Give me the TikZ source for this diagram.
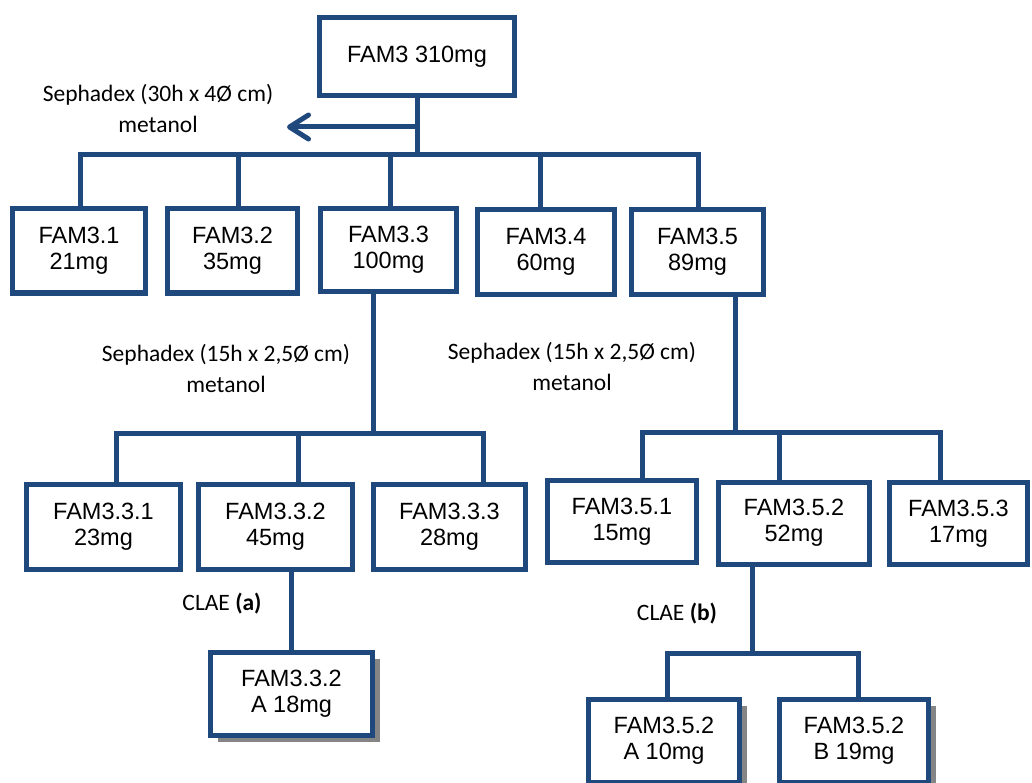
\documentclass[tikz,border=0pt]{standalone}
\usepackage{fontspec}
\setmainfont{Liberation Sans}
\newfontfamily\notefont{Carlito}
\usetikzlibrary{arrows.meta,shadows}
\definecolor{famblue}{HTML}{1F497D}
\tikzset{
  fam/.style={draw=famblue, line width=5pt, fill=white, inner sep=0pt,
    align=center, font=\fontsize{23.5}{26}\selectfont},
  famshadow/.style={fam, general shadow={fill=black!48, shadow xshift=7pt, shadow yshift=-6pt}},
  link/.style={draw=famblue, line width=5pt, line join=miter},
  note/.style={align=center, inner sep=0pt, font=\notefont\fontsize{23.5}{31}\selectfont},
}
\begin{document}
\begin{tikzpicture}[x=1pt, y=-1pt]
\clip (0,0) rectangle (1032,783);
\fill[white] (0,0) rectangle (1032,783);

% bar levels
\coordinate (b1) at (0,155);
\coordinate (b2) at (0,433);
\coordinate (b3) at (0,432);
\coordinate (b4) at (0,653);
\coordinate (arrowtip) at (287,127);

% fractions
\node[fam, minimum width=195, minimum height=78] (top) at (417,56.5) {FAM3 310mg};

\node[fam, minimum width=133, minimum height=84] (n31) at (79,251)    {FAM3.1\\21mg};
\node[fam, minimum width=130, minimum height=84] (n32) at (232.5,251) {FAM3.2\\35mg};
\node[fam, minimum width=136, minimum height=83] (n33) at (388.5,250) {FAM3.3\\100mg};
\node[fam, minimum width=137, minimum height=84] (n34) at (546,252)   {FAM3.4\\60mg};
\node[fam, minimum width=132, minimum height=85] (n35) at (697.5,252) {FAM3.5\\89mg};

\node[fam, minimum width=154, minimum height=85] (n331) at (103.5,527) {FAM3.3.1\\23mg};
\node[fam, minimum width=154, minimum height=85] (n332) at (275.5,527) {FAM3.3.2\\45mg};
\node[fam, minimum width=152, minimum height=85] (n333) at (449.5,527) {FAM3.3.3\\28mg};

\node[fam, minimum width=149, minimum height=82] (n351) at (622,521.5) {FAM3.5.1\\15mg};
\node[fam, minimum width=151, minimum height=82] (n352) at (794,523)   {FAM3.5.2\\52mg};
\node[fam, minimum width=138, minimum height=82] (n353) at (958.5,523.5) {FAM3.5.3\\17mg};

\node[famshadow, minimum width=162, minimum height=83] (n332a) at (291.5,694) {FAM3.3.2\\A 18mg};
\node[famshadow, minimum width=151, minimum height=83] (n352a) at (664,741)   {FAM3.5.2\\A 10mg};
\node[famshadow, minimum width=149, minimum height=83] (n352b) at (854,741)   {FAM3.5.2\\B 19mg};

% connectors: first split
\draw[link] (top.south) -- (top.south |- b1);
\draw[link, -{Straight Barb[length=19pt, width=24pt, round]}] (top.south |- arrowtip) -- (arrowtip);
\draw[link] ([xshift=1]n31.north) -- ([xshift=1]n31.north |- b1)
  -- ([xshift=0.5]n35.north |- b1) -- ([xshift=0.5]n35.north);
\draw[link] ([xshift=5.5]n32.north) -- ([xshift=5.5]n32.north |- b1);
\draw[link] ([xshift=1.5]n33.north) -- ([xshift=1.5]n33.north |- b1);
\draw[link] ([xshift=-6]n34.north) -- ([xshift=-6]n34.north |- b1);

% second split under FAM3.3
\draw[link] ([xshift=-15.5]n33.south) -- ([xshift=-15.5]n33.south |- b2);
\draw[link] ([xshift=12.5]n331.north) -- ([xshift=12.5]n331.north |- b2)
  -- ([xshift=33.5]n333.north |- b2) -- ([xshift=33.5]n333.north);
\draw[link] ([xshift=22.5]n332.north) -- ([xshift=22.5]n332.north |- b2);

% second split under FAM3.5
\draw[link] ([xshift=37.5]n35.south) -- ([xshift=37.5]n35.south |- b3);
\draw[link] ([xshift=20]n351.north) -- ([xshift=20]n351.north |- b3)
  -- ([xshift=-18.5]n353.north |- b3) -- ([xshift=-18.5]n353.north);
\draw[link] ([xshift=-15]n352.north) -- ([xshift=-15]n352.north |- b3);

% HPLC steps
\draw[link] ([xshift=16]n332.south) -- (n332a.north);
\draw[link] ([xshift=-42]n352.south) -- ([xshift=-42]n352.south |- b4);
\draw[link] ([xshift=3]n352a.north) -- ([xshift=3]n352a.north |- b4)
  -- ([xshift=4]n352b.north |- b4) -- ([xshift=4]n352b.north);

% step labels
\node[note] (l1) at (158,108) {Sephadex (30h x 4Ø cm)\\metanol};
\node[note] (l2) at (226,368) {Sephadex (15h x 2,5Ø cm)\\metanol};
\node[note] (l3) at (572,366) {Sephadex (15h x 2,5Ø cm)\\metanol};
\node[note] (l4) at (222,604) {CLAE \textbf{(a)}};
\node[note] (l5) at (677,614) {CLAE \textbf{(b)}};
\end{tikzpicture}
\end{document}
